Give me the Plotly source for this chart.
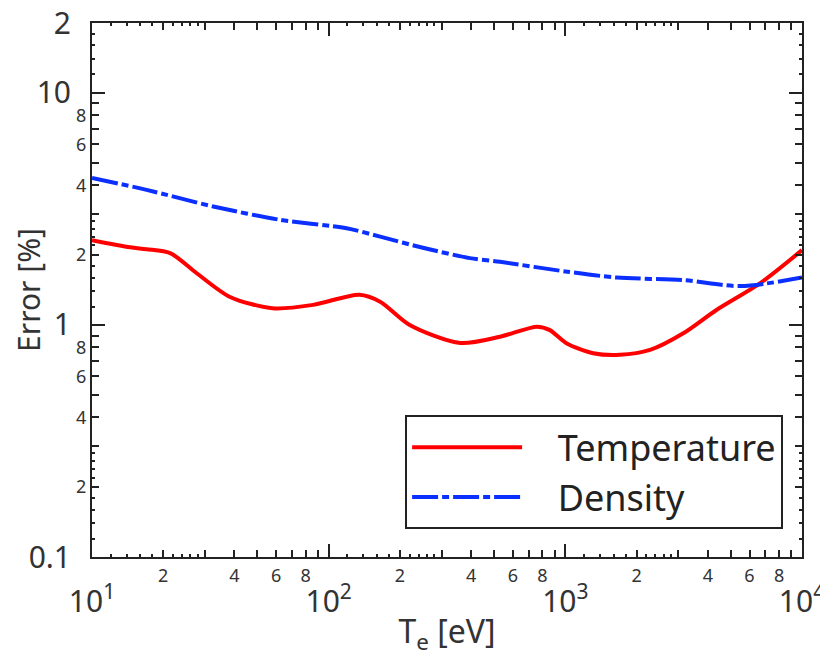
import math
import plotly.graph_objects as go

# ---- data ----
temp_x = [10, 14.5, 17, 21.4, 27.7, 38.3, 58, 86, 135, 165, 220, 360, 530, 760, 860, 1010, 1310, 1700, 2280, 3150, 4350, 6640, 10000]
temp_y = [2.32, 2.16, 2.12, 2.04, 1.67, 1.32, 1.18, 1.22, 1.35, 1.26, 1.0, 0.836, 0.89, 0.983, 0.95, 0.834, 0.755, 0.743, 0.78, 0.92, 1.16, 1.51, 2.1]

dens_x = [10, 17, 32.5, 62, 119, 165, 250, 395, 530, 1000, 1650, 3150, 5500, 10000]
dens_y = [4.3, 3.82, 3.24, 2.84, 2.61, 2.40, 2.15, 1.94, 1.87, 1.70, 1.60, 1.56, 1.47, 1.60]

# tick definitions
x_decades = [10, 100, 1000, 10000]
x_decade_text = ["10<sup>1</sup>", "10<sup>2</sup>", "10<sup>3</sup>", "10<sup>4</sup>"]
mults = [2, 3, 4, 5, 6, 7, 8, 9]
mult_text = ["2", "", "4", "", "6", "", "8", ""]
fine_mults = [1.2, 1.4, 1.6, 1.8, 2.2, 2.4, 2.6, 2.8]

x_tickvals = [m * d for d in [10, 100, 1000] for m in mults]
x_ticktext = [t for d in [10, 100, 1000] for t in mult_text]
x_minor = [m * d for d in [10, 100, 1000] for m in fine_mults]

y_major_vals = [0.1, 1, 10, 20]
y_major_text = ["0.1", "1", "10", "2"]
y_tickvals = [m * d for d in [0.1, 1] for m in mults]
y_ticktext = [t for d in [0.1, 1] for t in mult_text]
y_minor = [m * d for d in [0.1, 1, 10] for m in fine_mults if m * d < 20]

x_range = [math.log10(10), math.log10(10000)]
y_range = [math.log10(0.1), math.log10(20) + 1e-6]

TXT = "#333333"
FONT = "Noto Sans"
SP = "\u2002\u2005\u200a"

fig = go.Figure()
fig.add_trace(go.Scatter(x=temp_x, y=temp_y, name=SP + "Temperature", mode="lines",
                         line=dict(color="#ff0000", width=4, shape="spline", smoothing=0.8)))
fig.add_trace(go.Scatter(x=dens_x, y=dens_y, name=SP + "Density", mode="lines",
                         line=dict(color="#0a2fff", width=4, shape="spline", smoothing=0.8,
                                   dash="26px,4px,7px,4px")))
# invisible carrier trace so the overlay (decade-tick) axes are drawn
fig.add_trace(go.Scatter(x=[x_decades[0]], y=[y_major_vals[0]], xaxis="x2", yaxis="y2",
                         mode="markers", marker=dict(opacity=0), showlegend=False,
                         hoverinfo="skip"))

axis_common = dict(type="log", showgrid=False, zeroline=False, showline=True,
                   linecolor="#222", linewidth=2, ticks="inside", tickcolor="#222",
                   tickwidth=2, mirror="allticks", automargin=False,
                   ticklabeloverflow="allow")

fig.update_layout(
    width=828, height=656,
    margin=dict(l=84, r=34, t=15, b=107),
    paper_bgcolor="white", plot_bgcolor="white",
    font=dict(family=FONT, color=TXT),
    xaxis=dict(**axis_common, range=x_range, tickmode="array", tickvals=x_tickvals,
               ticktext=x_ticktext, ticklen=7, tickfont=dict(size=18, color=TXT),
               ticklabelstandoff=1,
               minor=dict(tickmode="array", tickvals=x_minor, ticks="inside", ticklen=3,
                          tickwidth=2, tickcolor="#222"),
               title=dict(text="T<sub>e</sub> [eV]", font=dict(size=32, color=TXT), standoff=35)),
    xaxis2=dict(**axis_common, range=x_range, overlaying="x", anchor="y", side="bottom",
                tickmode="array", tickvals=x_decades, ticktext=x_decade_text, ticklen=13,
                tickfont=dict(size=30, color=TXT), ticklabelstandoff=17),
    yaxis=dict(**axis_common, range=y_range, tickmode="array", tickvals=y_tickvals,
               ticktext=y_ticktext, ticklen=7, tickfont=dict(size=18, color=TXT),
               ticklabelstandoff=0,
               minor=dict(tickmode="array", tickvals=y_minor, ticks="inside", ticklen=3,
                          tickwidth=2, tickcolor="#222"),
               title=dict(text="Error [%]", font=dict(size=30, color=TXT), standoff=27)),
    yaxis2=dict(**axis_common, range=y_range, overlaying="y", anchor="x", side="left",
                tickmode="array", tickvals=y_major_vals, ticktext=y_major_text, ticklen=13,
                tickfont=dict(size=30, color=TXT), ticklabelstandoff=13),
    legend=dict(x=0.441, y=0.052, xanchor="left", yanchor="bottom",
                bgcolor="white", bordercolor="#222", borderwidth=2,
                font=dict(size=36, color="#222"), itemwidth=110, tracegroupgap=0),
)

fig.write_html("out.html")
